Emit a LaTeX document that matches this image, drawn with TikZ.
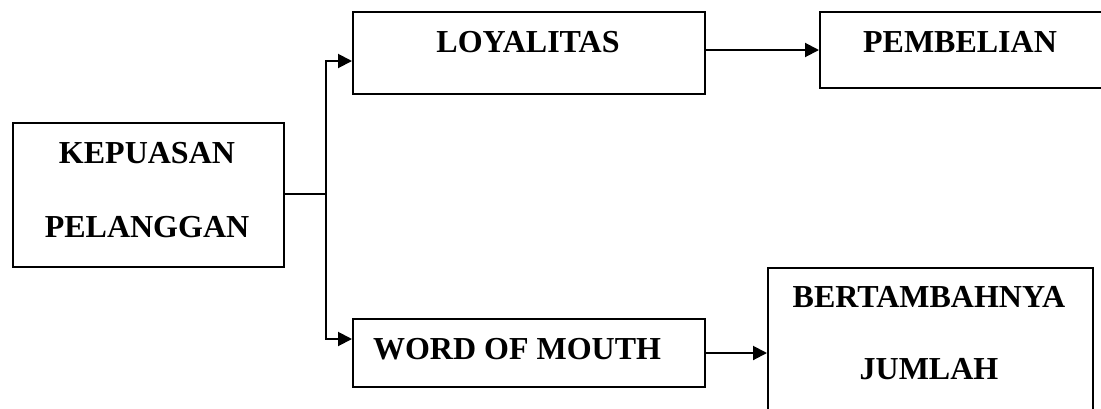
\documentclass[tikz,border=0pt]{standalone}
\usepackage{fontspec}
\setmainfont{Liberation Serif}
\usetikzlibrary{arrows.meta}
\begin{document}
\begin{tikzpicture}[x=1pt,y=-1pt,
  box/.style={draw,line width=2pt,inner sep=0pt,anchor=north west},
  lbl/.style={anchor=base,inner sep=0pt,font=\fontsize{32}{36}\selectfont\bfseries},
  conn/.style={line width=2pt},
  arr/.style={line width=2pt,-{Triangle[length=14pt,width=14pt]}}]
\useasboundingbox (0,0) rectangle (1101,408);
\clip (0,0) rectangle (1101,408);
\node[box,minimum width=271pt,minimum height=144pt] (kp) at (12,122) {};
\node[box,minimum width=352pt,minimum height=82pt] (loy) at (352,11) {};
\node[box,minimum width=290pt,minimum height=76pt] (pem) at (819,11) {};
\node[box,minimum width=325pt,minimum height=170pt] (ber) at (767,267) {};
\node[box,minimum width=352pt,minimum height=68pt] (wom) at (352,318) {};
\node[lbl] (t1) at (147,163) {KEPUASAN};
\node[lbl] (t2) at (147,237) {PELANGGAN};
\node[lbl] (t3) at (528,52) {LOYALITAS};
\node[lbl] (t4) at (960,52) {PEMBELIAN};
\node[lbl] (t5) at (517,359) {WORD OF MOUTH};
\node[lbl] (t6) at (929,307) {BERTAMBAHNYA};
\node[lbl] (t7) at (929,379) {JUMLAH};
\coordinate (j) at (326,194);
\draw[conn] (kp.east |- j) -- (j);
\draw[arr] (j) |- (loy.west |- 0,61);
\draw[arr] (j) |- (wom.west |- 0,339);
\draw[arr] (loy.east |- 0,50) -- (pem.west |- 0,50);
\draw[arr] (wom.east |- 0,353) -- (ber.west |- 0,353);
\end{tikzpicture}
\end{document}
